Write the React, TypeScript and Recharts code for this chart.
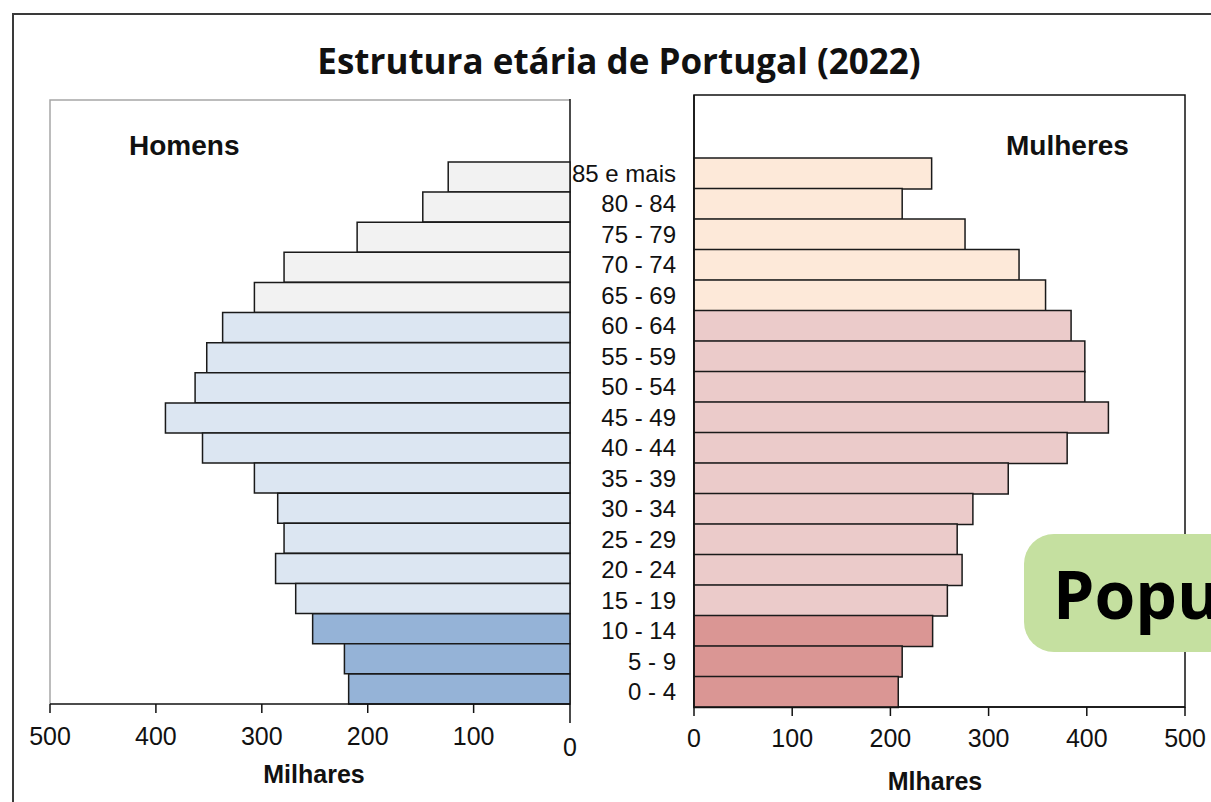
import React from 'react';
import { BarChart, Bar, XAxis, YAxis, Cell } from 'recharts';

// ---- data (thousands) ----
const ageGroups = [
  '85 e mais', '80 - 84', '75 - 79', '70 - 74', '65 - 69', '60 - 64', '55 - 59', '50 - 54', '45 - 49',
  '40 - 44', '35 - 39', '30 - 34', '25 - 29', '20 - 24', '15 - 19', '10 - 14', '5 - 9', '0 - 4',
];
const menValues = [124, 148, 210, 279, 307, 337, 352, 363, 391, 356, 307, 285, 279, 287, 268, 252, 222, 218];
const womenValues = [242, 212, 276, 331, 358, 384, 398, 398, 422, 380, 320, 284, 268, 273, 258, 243, 212, 208];

// left axis: reversed, its right edge sits a little above zero in the reference
const menTickValues = [500, 400, 300, 200, 100, 9];
const menTickLabels = ['500', '400', '300', '200', '100', '0'];
const womenTickValues = [0, 100, 200, 300, 400, 500];
const womenTickLabels = ['0', '100', '200', '300', '400', '500'];

const title = 'Estrutura etária de Portugal (2022)';
const menTitle = 'Homens';
const womenTitle = 'Mulheres';
const menAxisTitle = 'Milhares';
const womenAxisTitle = 'Mlhares';
const badgeText = 'População';

const data = ageGroups.map((age, i) => ({ age, men: menValues[i], women: womenValues[i] }));

const MEN_COLORS = ['#f2f2f2', '#dce6f2', '#95b3d7'];
const WOMEN_COLORS = ['#fde9d9', '#ebcbca', '#da9694'];
const bracket = (i: number) => (i < 5 ? 0 : i < 15 ? 1 : 2);

const TICK_FONT = '"Liberation Sans", Arial, sans-serif';

// layout of the two plot areas (page pixels)
const MEN_CHART = { left: 0, width: 600, height: 802 };
const MEN_PLOT = { x: 50, y: 100, w: 520, h: 604 };
const WOMEN_CHART = { left: 560, width: 651, height: 802 };
const WOMEN_PLOT = { x: 694, y: 95, w: 491, h: 612 };
const X_AXIS_H = 60;
const CAT_AXIS_W = 134;

const MenTick = (props: any) => {
  const { x, y, payload } = props;
  const idx = menTickValues.indexOf(payload.value);
  const isEdge = idx === menTickValues.length - 1;
  return (
    <g>
      <line x1={x} x2={x} y1={y} y2={y + (isEdge ? 19 : 9)} stroke="#111" strokeWidth={1.5} />
      <text x={x} y={y + (isEdge ? 52 : 41)} textAnchor="middle" fontSize={25} fontFamily={TICK_FONT} fill="#111">
        {menTickLabels[idx]}
      </text>
    </g>
  );
};

const WomenTick = (props: any) => {
  const { x, y, payload } = props;
  const idx = womenTickValues.indexOf(payload.value);
  return (
    <g>
      <line x1={x} x2={x} y1={y} y2={y + 9} stroke="#111" strokeWidth={1.5} />
      <text x={x} y={y + 40} textAnchor="middle" fontSize={25} fontFamily={TICK_FONT} fill="#111">
        {womenTickLabels[idx]}
      </text>
    </g>
  );
};

export default function App() {
  const menMargin = {
    top: MEN_PLOT.y,
    left: MEN_PLOT.x - MEN_CHART.left,
    right: MEN_CHART.left + MEN_CHART.width - (MEN_PLOT.x + MEN_PLOT.w),
    bottom: MEN_CHART.height - (MEN_PLOT.y + MEN_PLOT.h) - X_AXIS_H,
  };
  const womenMargin = {
    top: WOMEN_PLOT.y,
    left: WOMEN_PLOT.x - WOMEN_CHART.left - CAT_AXIS_W,
    right: WOMEN_CHART.left + WOMEN_CHART.width - (WOMEN_PLOT.x + WOMEN_PLOT.w),
    bottom: WOMEN_CHART.height - (WOMEN_PLOT.y + WOMEN_PLOT.h) - X_AXIS_H,
  };
  return (
    <div
      style={{
        position: 'fixed',
        left: 0,
        top: 0,
        width: 1211,
        height: 802,
        overflow: 'hidden',
        background: '#fff',
      }}
    >
      <div
        style={{
          position: 'absolute',
          left: 12,
          top: 13,
          width: 1400,
          height: 1000,
          border: '2px solid #3a3a3a',
          boxSizing: 'border-box',
        }}
      />
      {/* panel frames (behind the bars) */}
      <svg width={1211} height={802} style={{ position: 'absolute', left: 0, top: 0 }}>
        <polyline
          points={`${MEN_PLOT.x},${MEN_PLOT.y + MEN_PLOT.h} ${MEN_PLOT.x},${MEN_PLOT.y} ${MEN_PLOT.x + MEN_PLOT.w},${MEN_PLOT.y}`}
          fill="none"
          stroke="#a6a6a6"
          strokeWidth={1.5}
        />
        <line
          x1={MEN_PLOT.x + MEN_PLOT.w}
          x2={MEN_PLOT.x + MEN_PLOT.w}
          y1={MEN_PLOT.y - 1}
          y2={MEN_PLOT.y + MEN_PLOT.h}
          stroke="#111"
          strokeWidth={1.5}
        />
        <rect
          x={WOMEN_PLOT.x}
          y={WOMEN_PLOT.y}
          width={WOMEN_PLOT.w}
          height={WOMEN_PLOT.h}
          fill="none"
          stroke="#111"
          strokeWidth={1.5}
        />
      </svg>
      {/* Men panel */}
      <div style={{ position: 'absolute', left: MEN_CHART.left, top: 0 }}>
        <BarChart
          width={MEN_CHART.width}
          height={MEN_CHART.height}
          data={data}
          layout="vertical"
          barCategoryGap={0}
          margin={menMargin}
        >
          <XAxis
            type="number"
            domain={[9, 500]}
            reversed
            ticks={menTickValues}
            interval={0}
            orientation="bottom"
            height={X_AXIS_H}
            tickSize={0}
            tickMargin={0}
            tickLine={false}
            axisLine={{ stroke: '#111', strokeWidth: 1.5 }}
            tick={<MenTick />}
          />
          <YAxis
            type="category"
            dataKey="age"
            orientation="right"
            width={0}
            tick={false}
            tickLine={false}
            axisLine={{ stroke: '#111', strokeWidth: 1.5 }}
            padding={{ top: 62, bottom: 0 }}
          />
          <Bar dataKey="men" stroke="#1a1a1a" strokeWidth={1.5} isAnimationActive={false}>
            {data.map((d, i) => (
              <Cell key={d.age} fill={MEN_COLORS[bracket(i)]} />
            ))}
          </Bar>
        </BarChart>
      </div>
      {/* Women panel */}
      <div style={{ position: 'absolute', left: WOMEN_CHART.left, top: 0 }}>
        <BarChart
          width={WOMEN_CHART.width}
          height={WOMEN_CHART.height}
          data={data}
          layout="vertical"
          barCategoryGap={0}
          margin={womenMargin}
        >
          <XAxis
            type="number"
            domain={[0, 500]}
            ticks={womenTickValues}
            interval={0}
            orientation="bottom"
            height={X_AXIS_H}
            tickSize={0}
            tickMargin={0}
            tickLine={false}
            axisLine={{ stroke: '#111', strokeWidth: 1.5 }}
            tick={<WomenTick />}
          />
          <YAxis
            type="category"
            dataKey="age"
            orientation="left"
            width={CAT_AXIS_W}
            interval={0}
            tickLine={false}
            tickSize={6}
            tickMargin={12}
            axisLine={{ stroke: '#111', strokeWidth: 1.5 }}
            tick={{ fontSize: 24, fontFamily: TICK_FONT, fill: '#111' }}
            padding={{ top: 63, bottom: 0 }}
          />
          <Bar dataKey="women" stroke="#1a1a1a" strokeWidth={1.5} isAnimationActive={false}>
            {data.map((d, i) => (
              <Cell key={d.age} fill={WOMEN_COLORS[bracket(i)]} />
            ))}
          </Bar>
        </BarChart>
      </div>
      {/* Texts and badge */}
      <svg
        width={1211}
        height={802}
        style={{ position: 'absolute', left: 0, top: 0, pointerEvents: 'none' }}
      >
        <text
          x={619}
          y={74}
          textAnchor="middle"
          fontSize={35}
          fontWeight={700}
          fontFamily='"Open Sans", sans-serif'
          fill="#111"
        >
          {title}
        </text>
        <text x={129} y={155} fontSize={28} fontWeight={700} fontFamily={TICK_FONT} fill="#111">
          {menTitle}
        </text>
        <text x={1006} y={155} fontSize={28} fontWeight={700} fontFamily={TICK_FONT} fill="#111">
          {womenTitle}
        </text>
        <text x={314} y={783} textAnchor="middle" fontSize={25} fontWeight={700} fontFamily={TICK_FONT} fill="#111">
          {menAxisTitle}
        </text>
        <text x={935} y={790} textAnchor="middle" fontSize={25} fontWeight={700} fontFamily={TICK_FONT} fill="#111">
          {womenAxisTitle}
        </text>
        <rect x={1024} y={534} width={400} height={118} rx={30} ry={30} fill="#c5e0a0" />
        <text x={1053} y={619} fontSize={66} fontWeight={700} fontFamily='"Open Sans", sans-serif' fill="#000">
          {badgeText}
        </text>
      </svg>
    </div>
  );
}
